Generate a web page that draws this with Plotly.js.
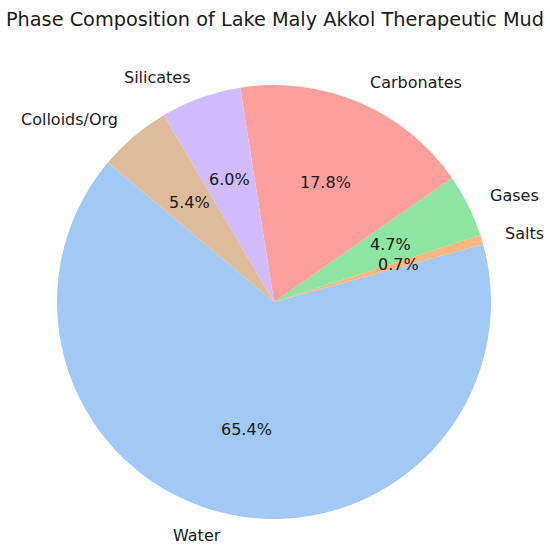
<!DOCTYPE html>
<html>
<head>
<meta charset="utf-8">
<script src="https://cdn.plot.ly/plotly-3.0.1.min.js"></script>
<style>html,body{margin:0;padding:0;background:#fff;}#chart{width:550px;height:547px;}</style>
</head>
<body>
<div id="chart"></div>
<script>
const categories = ["Water", "Salts", "Gases", "Carbonates", "Silicates", "Colloids/Org"];
const values = [65.4, 0.7, 4.7, 17.8, 6.0, 5.4];
const colors = ["#a1c9f4", "#ffb482", "#8de5a1", "#ff9f9b", "#d0bbff", "#debb9b"];
const chartTitle = "Phase Composition of Lake Maly Akkol Therapeutic Mud";

const W = 550, H = 547;
const cx = 274, cy = 302, R = 217;
const startAngle = 140; // degrees, math convention, counterclockwise

const total = values.reduce((a, b) => a + b, 0);
const annotations = [];
let acc = startAngle;
const font = {family: "DejaVu Sans", size: 16, color: "#1a1a1a"};
values.forEach((v, i) => {
  const span = v / total * 360;
  const mid = (acc + span / 2) * Math.PI / 180;
  acc += span;
  const c = Math.cos(mid), s = Math.sin(mid);
  const lx = cx + 1.1 * R * c, ly = cy - 1.1 * R * s;
  annotations.push({
    x: lx / W, y: (H - ly) / H, xref: "paper", yref: "paper",
    text: categories[i], showarrow: false,
    xanchor: c > 0 ? "left" : "right", yanchor: "middle", font: font
  });
  const px = cx + 0.6 * R * c, py = cy - 0.6 * R * s;
  annotations.push({
    x: px / W, y: (H - py) / H, xref: "paper", yref: "paper",
    text: (v / total * 100).toFixed(1) + "%", showarrow: false,
    xanchor: "center", yanchor: "middle", font: font
  });
});

// Plotly (counterclockwise): first slice lies clockwise of the rotation boundary,
// so the boundary is placed at the end of the first slice.
const firstEnd = startAngle + values[0] / total * 360;

const trace = {
  type: "pie",
  labels: categories,
  values: values,
  marker: {colors: colors, line: {width: 0}},
  sort: false,
  direction: "counterclockwise",
  rotation: ((90 - firstEnd) % 360 + 360) % 360 - 360,
  textinfo: "none",
  hoverinfo: "label+percent",
  showlegend: false,
  domain: {x: [(cx - R) / W, (cx + R) / W], y: [(H - cy - R) / H, (H - cy + R) / H]}
};

const layout = {
  width: W, height: H,
  margin: {l: 0, r: 0, t: 0, b: 0},
  paper_bgcolor: "#fff",
  title: {text: chartTitle, font: {family: "DejaVu Sans", size: 19.3, color: "#1a1a1a"}, x: 0.5, xanchor: "center", y: 1 - 19 / H, yanchor: "middle"},
  annotations: annotations,
  showlegend: false
};

Plotly.newPlot("chart", [trace], layout, {displayModeBar: false, staticPlot: true});
</script>
</body>
</html>
